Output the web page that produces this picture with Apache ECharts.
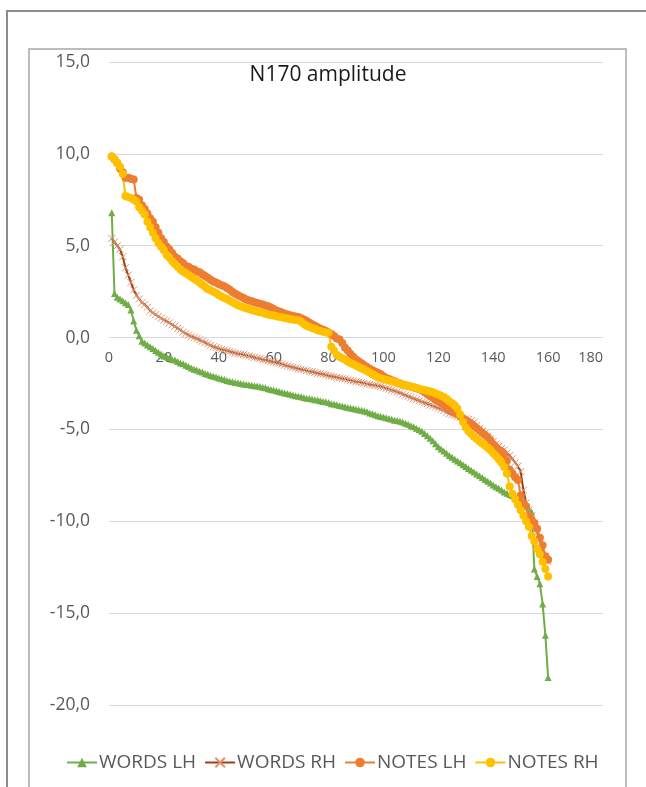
<!DOCTYPE html>
<html>
<head>
<meta charset="utf-8">
<script src="https://cdn.jsdelivr.net/npm/echarts@6/dist/echarts.min.js"></script>
<style>
  html, body { margin: 0; padding: 0; background: #fff; }
  #chart { width: 646px; height: 787px; }
</style>
</head>
<body>
<div id="chart"></div>
<script>
// series values, rank 1..160 (sorted amplitudes)
var wordsLH = [
  6.8, 2.4, 2.2, 2.1, 2.0, 1.9, 1.8, 1.5, 0.9, 0.4,
  0.1, -0.2, -0.3, -0.4, -0.5, -0.6, -0.7, -0.8, -0.9, -1.0,
  -1.05, -1.1, -1.2, -1.22, -1.3, -1.38, -1.42, -1.5, -1.58, -1.65,
  -1.72, -1.76, -1.83, -1.88, -1.95, -2.0, -2.06, -2.1, -2.15, -2.2,
  -2.24, -2.28, -2.33, -2.38, -2.4, -2.44, -2.46, -2.5, -2.53, -2.55,
  -2.57, -2.6, -2.62, -2.64, -2.67, -2.7, -2.73, -2.78, -2.82, -2.85,
  -2.9, -2.93, -2.98, -3.02, -3.05, -3.08, -3.12, -3.16, -3.2, -3.22,
  -3.26, -3.3, -3.32, -3.35, -3.38, -3.4, -3.44, -3.48, -3.5, -3.54,
  -3.6, -3.62, -3.66, -3.7, -3.72, -3.76, -3.8, -3.83, -3.86, -3.9,
  -3.93, -3.96, -4.0, -4.04, -4.1, -4.14, -4.2, -4.25, -4.3, -4.33,
  -4.37, -4.4, -4.45, -4.5, -4.52, -4.56, -4.6, -4.66, -4.72, -4.8,
  -4.86, -4.94, -5.02, -5.1, -5.22, -5.34, -5.48, -5.62, -5.78, -5.94,
  -6.06, -6.18, -6.3, -6.42, -6.52, -6.62, -6.72, -6.82, -6.92, -7.02,
  -7.12, -7.22, -7.32, -7.42, -7.52, -7.62, -7.72, -7.82, -7.92, -8.02,
  -8.12, -8.2, -8.3, -8.4, -8.48, -8.54, -8.6, -8.66, -8.72, -8.8,
  -9.0, -9.2, -9.35, -9.5, -12.6, -13.0, -13.4, -14.5, -16.2, -18.5
];
var wordsRH = [
  5.4, 5.2, 5.0, 4.8, 4.4, 3.8, 3.4, 3.0, 2.6, 2.3,
  2.1, 1.9, 1.8, 1.65, 1.45, 1.35, 1.25, 1.15, 1.05, 0.95,
  0.9, 0.8, 0.7, 0.62, 0.5, 0.42, 0.3, 0.22, 0.14, 0.05,
  0.0, -0.06, -0.12, -0.2, -0.28, -0.34, -0.42, -0.5, -0.55, -0.6,
  -0.65, -0.68, -0.72, -0.76, -0.8, -0.84, -0.88, -0.9, -0.93, -0.97,
  -1.0, -1.04, -1.08, -1.12, -1.15, -1.2, -1.22, -1.26, -1.3, -1.33,
  -1.37, -1.4, -1.44, -1.5, -1.54, -1.58, -1.62, -1.66, -1.7, -1.73,
  -1.76, -1.8, -1.84, -1.86, -1.9, -1.94, -1.97, -2.0, -2.04, -2.08,
  -2.1, -2.13, -2.16, -2.2, -2.23, -2.26, -2.3, -2.33, -2.36, -2.4,
  -2.42, -2.45, -2.48, -2.52, -2.55, -2.58, -2.6, -2.63, -2.66, -2.7,
  -2.76, -2.8, -2.86, -2.9, -2.96, -3.0, -3.08, -3.14, -3.2, -3.26,
  -3.32, -3.38, -3.44, -3.5, -3.55, -3.6, -3.66, -3.72, -3.78, -3.84,
  -3.9, -3.98, -4.06, -4.14, -4.2, -4.24, -4.28, -4.33, -4.38, -4.42,
  -4.46, -4.52, -4.62, -4.78, -4.95, -5.1, -5.22, -5.36, -5.5, -5.66,
  -5.8, -5.92, -6.04, -6.12, -6.28, -6.42, -6.6, -6.8, -7.0, -7.3,
  -8.3, -9.0, -9.4, -9.7, -10.1, -10.6, -11.0, -11.5, -11.9, -12.2
];
var notesLH = [
  9.85, 9.7, 9.5, 9.2, 9.0, 8.7, 8.7, 8.65, 8.6, 7.6,
  7.5, 7.2, 7.0, 6.75, 6.5, 6.3, 6.0, 5.7, 5.4, 5.2,
  4.95, 4.8, 4.6, 4.4, 4.3, 4.15, 4.05, 3.9, 3.85, 3.75,
  3.7, 3.6, 3.55, 3.45, 3.35, 3.25, 3.15, 3.05, 3.0, 2.92,
  2.85, 2.8, 2.7, 2.6, 2.48, 2.38, 2.3, 2.22, 2.15, 2.07,
  2.02, 1.98, 1.92, 1.88, 1.84, 1.8, 1.75, 1.7, 1.64, 1.56,
  1.48, 1.42, 1.36, 1.3, 1.26, 1.22, 1.18, 1.15, 1.12, 1.05,
  0.98, 0.9, 0.8, 0.72, 0.64, 0.56, 0.48, 0.42, 0.36, 0.28,
  0.2, 0.08, -0.05, -0.1, -0.3, -0.55, -0.7, -0.9, -1.05, -1.2,
  -1.3, -1.4, -1.5, -1.6, -1.7, -1.78, -1.86, -1.92, -2.0, -2.1,
  -2.2, -2.26, -2.32, -2.38, -2.44, -2.5, -2.55, -2.6, -2.64, -2.68,
  -2.72, -2.76, -2.8, -2.88, -2.98, -3.08, -3.18, -3.28, -3.38, -3.46,
  -3.56, -3.66, -3.76, -3.86, -3.96, -4.06, -4.16, -4.28, -4.4, -4.5,
  -4.6, -4.7, -4.82, -4.94, -5.06, -5.18, -5.3, -5.42, -5.6, -5.8,
  -5.96, -6.1, -6.2, -6.35, -6.7, -7.2, -7.4, -7.6, -7.75, -8.6,
  -9.0, -9.2, -9.7, -9.9, -10.1, -10.4, -10.9, -11.3, -11.9, -12.1
];
var notesRH = [
  9.85, 9.7, 9.5, 9.3, 8.9, 7.7, 7.65, 7.6, 7.5, 7.4,
  7.1, 6.9, 6.7, 6.3, 6.0, 5.7, 5.4, 5.15, 4.95, 4.75,
  4.5, 4.35, 4.15, 4.0, 3.85, 3.7, 3.6, 3.5, 3.4, 3.3,
  3.2, 3.1, 3.0, 2.88, 2.76, 2.65, 2.58, 2.5, 2.42, 2.32,
  2.24, 2.16, 2.1, 2.0, 1.92, 1.84, 1.76, 1.7, 1.65, 1.6,
  1.55, 1.5, 1.46, 1.42, 1.38, 1.35, 1.3, 1.26, 1.22, 1.2,
  1.16, 1.14, 1.1, 1.06, 1.04, 1.0, 0.98, 0.96, 0.94, 0.86,
  0.74, 0.64, 0.58, 0.52, 0.46, 0.4, 0.36, 0.32, 0.28, 0.26,
  -0.5, -0.7, -0.95, -1.05, -1.12, -1.2, -1.3, -1.38, -1.45, -1.52,
  -1.6, -1.68, -1.74, -1.82, -1.9, -2.0, -2.08, -2.16, -2.22, -2.26,
  -2.3, -2.34, -2.38, -2.42, -2.46, -2.5, -2.55, -2.58, -2.62, -2.66,
  -2.7, -2.74, -2.78, -2.82, -2.86, -2.9, -2.94, -2.98, -3.04, -3.1,
  -3.16, -3.24, -3.34, -3.46, -3.58, -3.7, -3.88, -4.2, -4.6, -4.9,
  -5.1, -5.25, -5.4, -5.52, -5.64, -5.76, -5.88, -6.0, -6.14, -6.3,
  -6.45, -6.62, -6.8, -7.05, -7.4, -8.1, -8.5, -8.8, -9.1, -9.4,
  -9.7, -10.0, -10.3, -10.8, -11.1, -11.5, -11.8, -12.2, -12.6, -13.0
];
var seriesNames = ['WORDS LH', 'WORDS RH', 'NOTES LH', 'NOTES RH'];

var font = '"Open Sans", "Liberation Sans", sans-serif';

// rank on x, amplitude on y
function toPoints(arr) {
    return arr.map(function (v, i) { return [i + 1, v]; });
}

var chart = echarts.init(document.getElementById('chart'), null, { renderer: 'canvas' });

var gridTop = 62, gridBottom = 82;
var yMin = -20, yMax = 15;
// x axis crosses at y = 0 (pixel distance from the bottom of the plot)
var plotH = 787 - gridTop - gridBottom;
var zeroOffset = -plotH * (0 - yMin) / (yMax - yMin);

var option = {
    animation: false,
    backgroundColor: '#fff',
    textStyle: { fontFamily: font },
    title: {
        text: 'N170 amplitude',
        left: 328,
        top: 65,
        textAlign: 'center',
        padding: 0,
        textStyle: { fontFamily: font, fontSize: 21, fontWeight: 'normal', color: '#1a1a1a' }
    },
    legend: {
        data: seriesNames,
        left: 66,
        top: 753,
        itemWidth: 30,
        itemHeight: 12,
        itemGap: 8,
        padding: 0,
        textStyle: { fontFamily: font, fontSize: 19, color: '#595959', padding: [0, 0, 0, -3] }
    },
    grid: { left: 109, right: 43, top: gridTop, bottom: gridBottom },
    xAxis: {
        type: 'value',
        min: 0,
        max: 180,
        interval: 20,
        offset: zeroOffset,
        axisLine: { show: true, onZero: false, lineStyle: { color: '#D9D9D9', width: 1 } },
        axisTick: { show: false },
        splitLine: { show: false },
        axisLabel: { fontFamily: font, fontSize: 14.5, color: '#595959', margin: 13, alignMaxLabel: 'right' }
    },
    yAxis: {
        type: 'value',
        min: yMin,
        max: yMax,
        interval: 5,
        axisLine: { show: false },
        axisTick: { show: false },
        splitLine: { lineStyle: { color: '#D9D9D9', width: 1 } },
        axisLabel: {
            fontFamily: font, fontSize: 17.5, color: '#595959', margin: 19,
            formatter: function (v) { return v.toFixed(1).replace('.', ','); }
        }
    },
    graphic: [
        // outer frame (cropped screenshot)
        { type: 'polyline', silent: true, shape: { points: [[7, 787], [7, 11], [646, 11]] },
          style: { fill: null, stroke: '#8C8C8C', lineWidth: 2 } },
        // chart area frame
        { type: 'rect', silent: true, shape: { x: 29, y: 49, width: 597, height: 760 },
          style: { fill: null, stroke: '#A6A6A6', lineWidth: 1.5 } }
    ],
    series: [
        {
            name: 'WORDS LH', type: 'line', data: toPoints(wordsLH),
            symbol: 'triangle', symbolSize: 7, showAllSymbol: true,
            lineStyle: { color: '#70AD47', width: 2 },
            itemStyle: { color: '#70AD47' }
        },
        {
            name: 'WORDS RH', type: 'line', data: toPoints(wordsRH),
            symbol: 'path://M0,0L10,10M10,0L0,10', symbolSize: 7, showAllSymbol: true,
            lineStyle: { color: '#9E3F14', width: 2 },
            itemStyle: { color: '#9E3F14', borderColor: '#DB9370', borderWidth: 1 }
        },
        {
            name: 'NOTES LH', type: 'line', data: toPoints(notesLH),
            symbol: 'circle', symbolSize: 8, showAllSymbol: true,
            lineStyle: { color: '#ED7D31', width: 2 },
            itemStyle: { color: '#ED7D31' }
        },
        {
            name: 'NOTES RH', type: 'line', data: toPoints(notesRH),
            symbol: 'circle', symbolSize: 8, showAllSymbol: true,
            lineStyle: { color: '#FFC000', width: 2 },
            itemStyle: { color: '#FFC000' }
        }
    ]
};

chart.setOption(option);
</script>
</body>
</html>
